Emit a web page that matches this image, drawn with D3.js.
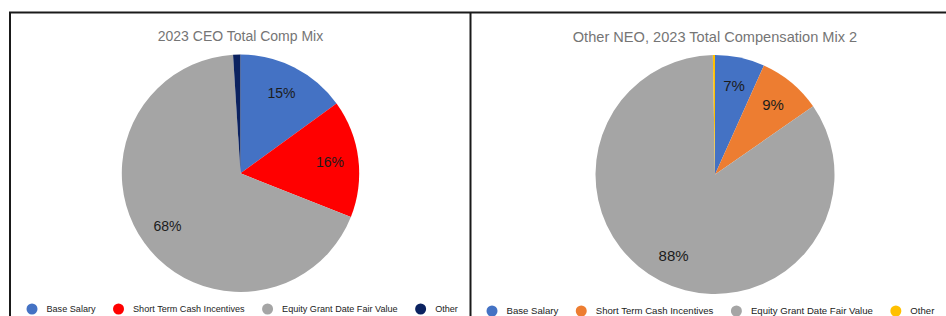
<!DOCTYPE html>
<html>
<head>
<meta charset="utf-8">
<script src="https://cdn.jsdelivr.net/npm/d3@7"></script>
<style>
  body { margin: 0; background: #fff; }
  svg { display: block; font-family: "Liberation Sans", Arial, sans-serif; }
</style>
</head>
<body>
<div class="chart"></div>
<script>
// data
var categories = ["Base Salary", "Short Term Cash Incentives", "Equity Grant Date Fair Value", "Other"];
var ceoValues = [15, 16, 68, 1];
var neoValues = [7, 9, 88, 0.3];
var ceoTitle = "2023 CEO Total Comp Mix";
var neoTitle = "Other NEO, 2023 Total Compensation Mix 2";
var ceoColors = ["#4472c4", "#ff0000", "#a5a5a5", "#0b2260"];
var neoColors = ["#4472c4", "#ed7d31", "#a5a5a5", "#ffc000"];

var width = 946, height = 316;
var svg = d3.select(".chart").append("svg")
    .attr("width", width)
    .attr("height", height);

var drawPanel = function (opt) {
    var g = svg.append("g");

    g.append("text")
        .attr("x", opt.cx)
        .attr("y", opt.titleY)
        .attr("text-anchor", "middle")
        .attr("fill", "#757575")
        .attr("font-size", opt.titleSize)
        .text(opt.title);

    var pie = d3.pie().sort(null).value(function (d) { return d; });
    var arc = d3.arc().innerRadius(0).outerRadius(opt.r);
    var labelArc = d3.arc().innerRadius(opt.r * 0.76).outerRadius(opt.r * 0.76);
    var arcs = pie(opt.values);
    var total = d3.sum(opt.values);

    var pg = g.append("g").attr("transform", "translate(" + opt.cx + "," + opt.cy + ")");
    pg.selectAll("path")
        .data(arcs)
        .enter()
        .append("path")
        .attr("d", arc)
        .attr("fill", function (d, i) { return opt.colors[i]; });

    pg.selectAll("text")
        .data(arcs.filter(function (d) { return d.value / total > 0.02; }))
        .enter()
        .append("text")
        .attr("transform", function (d) { return "translate(" + labelArc.centroid(d) + ")"; })
        .attr("text-anchor", "middle")
        .attr("dy", "0.36em")
        .attr("font-size", opt.labelSize)
        .attr("fill", "#1c1c1c")
        .text(function (d) { return d.value + "%"; });

    // legend, laid out left to right by measured text width
    var lg = g.append("g").attr("transform", "translate(0," + opt.legendY + ")");
    var x = opt.legendX;
    categories.forEach(function (c, i) {
        lg.append("circle")
            .attr("cx", x)
            .attr("cy", 0)
            .attr("r", 5.5)
            .attr("fill", opt.colors[i]);
        var t = lg.append("text")
            .attr("x", x + 14.5)
            .attr("y", 0)
            .attr("dy", "0.35em")
            .attr("font-size", opt.legendSize)
            .attr("fill", "#222")
            .text(c);
        x = x + 14.5 + t.node().getComputedTextLength() + 23;
    });
};

// panel borders
svg.append("path")
    .attr("d", "M10,316 V12.5 H946 M470.5,12.5 V316")
    .attr("fill", "none")
    .attr("stroke", "#1a1a1a")
    .attr("stroke-width", 2);

drawPanel({
    title: ceoTitle, values: ceoValues, colors: ceoColors,
    cx: 240.5, cy: 173.3, r: 118.7, titleY: 40.5, titleSize: 14,
    labelSize: 14, legendX: 32, legendY: 309, legendSize: 9.1
});
drawPanel({
    title: neoTitle, values: neoValues, colors: neoColors,
    cx: 715, cy: 174.5, r: 119.5, titleY: 41.5, titleSize: 14.6,
    labelSize: 15, legendX: 492, legendY: 311, legendSize: 9.6
});
</script>
</body>
</html>
